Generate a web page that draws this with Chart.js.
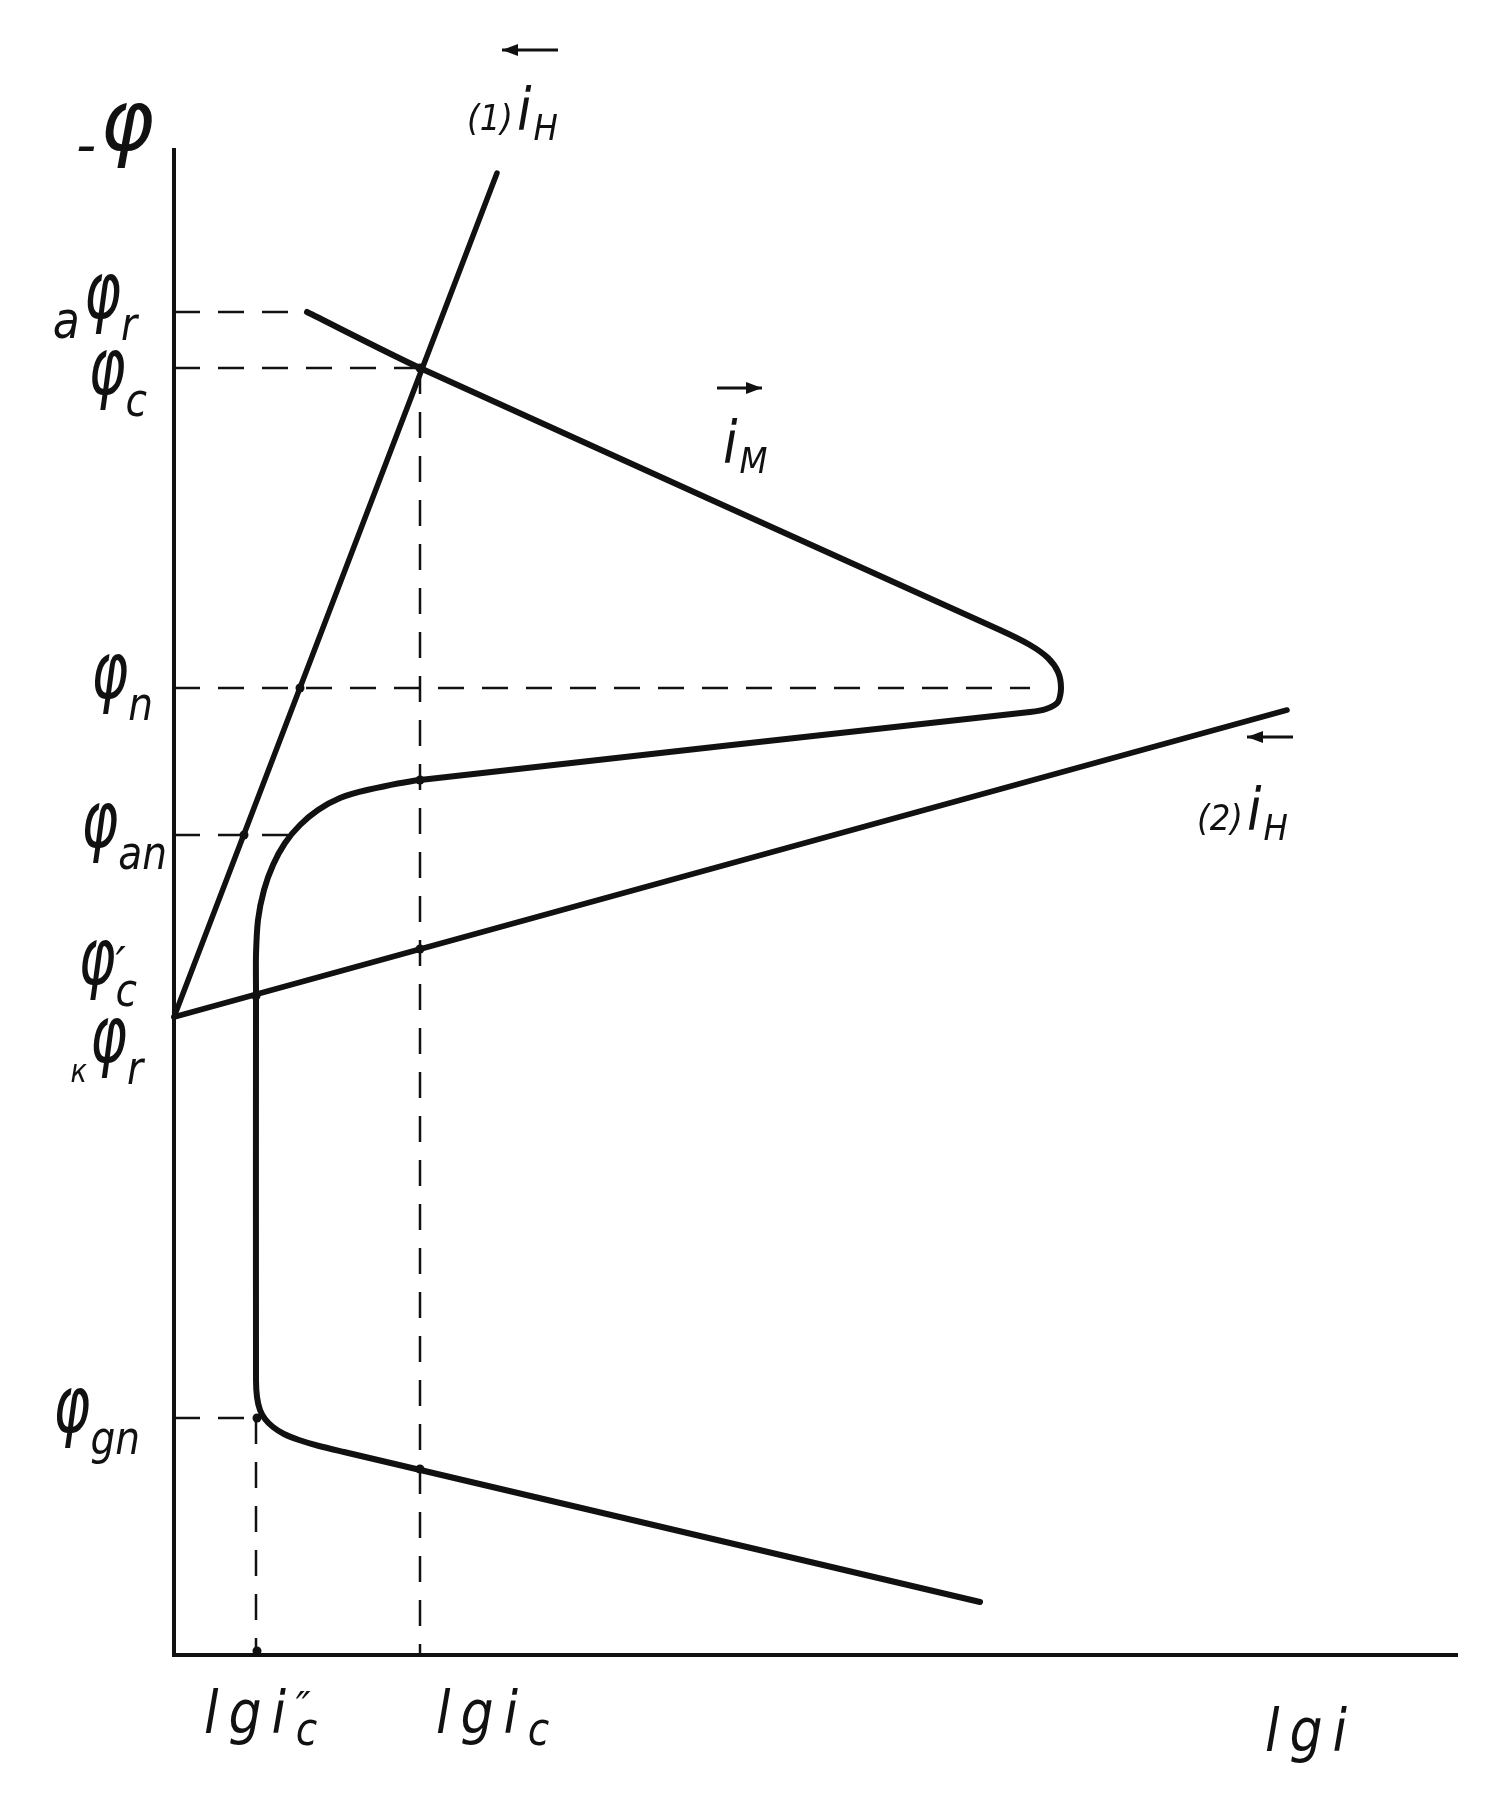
<!DOCTYPE html>
<html>
<head>
<meta charset="utf-8">
<title>lg i – φ</title>
<script src="https://cdn.jsdelivr.net/npm/chart.js@4.4.1/dist/chart.umd.min.js"></script>
<style>
  html, body { margin: 0; padding: 0; background: #fff; }
  canvas { display: block; }
</style>
</head>
<body>
<canvas id="diagram" width="1512" height="1800"></canvas>
<script>
// ==================== Values (lg i across, -φ up) ====================
const lgMax = 12.83;
const phiMax = 15.05;

// potential levels marked on the -φ axis
const phiLevels = [13.43, 12.87, 9.67, 8.20, 6.59, 6.38, 2.37];
const phiNames = [
    [['а', 'pre'], ['φ', 'main'], ['r', 'sub']],
    [['φ', 'main'], ['c', 'sub']],
    [['φ', 'main'], ['n', 'sub']],
    [['φ', 'main'], ['an', 'sub']],
    [['φ', 'main'], ['′', 'sup'], ['c', 'sub']],
    [['к', 'preSmall'], ['φ', 'main'], ['r', 'sub']],
    [['φ', 'main'], ['gn', 'sub']]
];
// where each dashed level line stops (null = no dashed line)
const phiGuideEnds = [1.33, 2.46, 8.56, 1.22, null, null, 0.85];

// current levels marked on the lg i axis
const lgLevels = [0.82, 2.46];
const lgNames = [
    [['lg', 'big'], ['i', 'big'], ['″', 'isup'], ['c', 'isub']],
    [['lg', 'big'], ['i', 'big'], ['c', 'isub']]
];
const lgGuideTops = [2.37, 12.87];

// cathodic lines (1) and (2)
const lineH1X = [0, 3.23];
const lineH1Y = [6.38, 14.82];
const lineH2X = [0, 11.13];
const lineH2Y = [6.38, 9.45];

// anodic polarisation curve of the metal
const curveMX = [1.33, 2.46, 8.26, 8.56, 8.74, 8.84, 8.87, 8.84, 8.72, 8.56, 2.46,
                 1.93, 1.66, 1.44, 1.26, 1.11, 0.99, 0.90, 0.84, 0.82, 0.82,
                 0.82, 0.83, 0.86, 0.91, 0.99, 1.10, 1.25, 1.45, 1.70, 8.06];
const curveMY = [13.43, 12.87, 10.25, 10.10, 9.97, 9.83, 9.67, 9.53, 9.46, 9.43, 8.75,
                 8.65, 8.57, 8.45, 8.30, 8.12, 7.90, 7.65, 7.35, 7.00, 6.65,
                 2.75, 2.58, 2.45, 2.36, 2.28, 2.21, 2.15, 2.09, 2.03, 0.53];

// small ink dots at the crossings
const dotX = [2.46, 1.26, 0.70, 2.46, 2.46, 0.82, 0.83, 2.46, 0.83];
const dotY = [12.87, 9.67, 8.20, 8.75, 7.06, 6.59, 2.37, 1.86, 0.04];

const axisTitleX = [['lg', 'big'], ['i', 'big']];
const axisTitleY = [['-', 'dash'], ['φ', 'title']];
const seriesNames = [
    [['(1)', 'paren'], ['i', 'ibig'], ['H', 'capsub']],
    [['(2)', 'paren'], ['i', 'ibig'], ['H', 'capsub']],
    [['i', 'ibig'], ['M', 'capsub']]
];

// ==================== Drawing ====================
const ink = '#111';
const zip = (xs, ys) => xs.map((x, i) => ({ x, y: ys[i] }));

// label layout (pixels)
const phiLabelGap = [37, 27, 21, 7, 37, 31, 34];
const phiLabelDy = [6, 26, 10, 12, -12, 45, 14];
const lgLabelDx = [-52, 16];
const lgLabelDy = 78;
const seriesLayout = [
    { set: 1, at: 'last', dx: -30, dy: -43, arrow: { x1: 5, x2: 61, y: -123, head: 'left' } },
    { set: 2, at: 'last', dx: -90, dy: 120, arrow: { x1: -40, x2: 6, y: 27, head: 'left' } },
    { set: 0, at: [6.26, 11.05], dx: -77, dy: -87, arrow: { x1: -83, x2: -38, y: -162, head: 'right' } }
];

const runStyles = {
    main:     { size: 78, sq: 0.72, dy: 0 },
    sub:      { size: 46, sq: 0.85, dy: 22 },
    pre:      { size: 52, sq: 0.85, dy: 20, gap: 4 },
    preSmall: { size: 32, sq: 0.85, dy: 20, gap: 3 },
    sup:      { size: 46, sq: 1,    dy: -4, still: true },
    title:    { size: 86, sq: 0.95, dy: 0 },
    dash:     { size: 56, sq: 1,    dy: 14, gap: 4 },
    big:      { size: 58, sq: 0.9,  dy: 0, spacing: 11 },
    isub:     { size: 46, sq: 0.85, dy: 12 },
    isup:     { size: 40, sq: 1,    dy: -12, still: true },
    paren:    { size: 36, sq: 0.9,  dy: 0, gap: 4 },
    ibig:     { size: 58, sq: 0.9,  dy: 0, gap: 2 },
    capsub:   { size: 36, sq: 0.9,  dy: 10 }
};

function setFont(ctx, st) {
    ctx.font = `italic ${st.size}px "DejaVu Sans"`;
    ctx.letterSpacing = (st.spacing || 0) + 'px';
}

function runsWidth(ctx, runs) {
    let w = 0;
    runs.forEach(([text, role]) => {
        const st = runStyles[role];
        setFont(ctx, st);
        if (!st.still) w += ctx.measureText(text).width * st.sq + (st.gap || 0);
    });
    return w;
}

function drawRuns(ctx, runs, x, y) {
    let cx = x;
    runs.forEach(([text, role]) => {
        const st = runStyles[role];
        setFont(ctx, st);
        ctx.save();
        ctx.translate(cx, y + st.dy);
        ctx.scale(st.sq, 1);
        ctx.fillText(text, 0, 0);
        ctx.restore();
        if (!st.still) cx += ctx.measureText(text).width * st.sq + (st.gap || 0);
    });
}

function drawArrow(ctx, x1, x2, y, head) {
    ctx.save();
    ctx.strokeStyle = ink;
    ctx.lineWidth = 3;
    ctx.beginPath();
    ctx.moveTo(x1, y);
    ctx.lineTo(x2, y);
    ctx.stroke();
    const tip = head === 'left' ? x1 : x2;
    const back = head === 'left' ? 16 : -16;
    ctx.beginPath();
    ctx.moveTo(tip, y);
    ctx.lineTo(tip + back, y - 6);
    ctx.lineTo(tip + back, y + 6);
    ctx.closePath();
    ctx.fillStyle = ink;
    ctx.fill();
    ctx.restore();
}

const labelPlugin = {
    id: 'diagramLabels',
    afterDraw(chart) {
        const { ctx, chartArea: area, scales: { x, y } } = chart;
        ctx.save();
        ctx.fillStyle = ink;
        ctx.textBaseline = 'alphabetic';

        // names of the potential levels
        phiNames.forEach((runs, i) => {
            const base = y.getPixelForValue(phiLevels[i]) + phiLabelDy[i];
            const w = runsWidth(ctx, runs);
            drawRuns(ctx, runs, area.left - phiLabelGap[i] - w, base);
        });

        // names of the current levels
        lgNames.forEach((runs, i) => {
            drawRuns(ctx, runs, x.getPixelForValue(lgLevels[i]) + lgLabelDx[i], area.bottom + lgLabelDy);
        });

        // axis titles
        drawRuns(ctx, axisTitleX, area.right - 192, area.bottom + 96);
        drawRuns(ctx, axisTitleY, area.left - 98, area.top);

        // line names with direction arrows
        seriesLayout.forEach((lay, i) => {
            let p;
            if (lay.at === 'last') {
                const pts = chart.getDatasetMeta(lay.set).data;
                p = pts[pts.length - 1];
            } else {
                p = { x: x.getPixelForValue(lay.at[0]), y: y.getPixelForValue(lay.at[1]) };
            }
            drawRuns(ctx, seriesNames[i], p.x + lay.dx, p.y + lay.dy);
            drawArrow(ctx, p.x + lay.arrow.x1, p.x + lay.arrow.x2, p.y + lay.arrow.y, lay.arrow.head);
        });
        ctx.restore();
    }
};

function buildDatasets() {
    const solid = { showLine: true, pointRadius: 0, borderColor: ink, borderCapStyle: 'round',
                    borderJoinStyle: 'round', clip: false };
    const sets = [
        { ...solid, data: zip(curveMX, curveMY), borderWidth: 6, tension: 0.25 },
        { ...solid, data: zip(lineH1X, lineH1Y), borderWidth: 5.5 },
        { ...solid, data: zip(lineH2X, lineH2Y), borderWidth: 5.5 }
    ];
    const guide = { showLine: true, pointRadius: 0, borderColor: ink, borderWidth: 2.5,
                    borderDash: [26, 18], clip: false };
    phiLevels.forEach((lvl, i) => {
        if (phiGuideEnds[i] === null) return;
        sets.push({ ...guide, data: [{ x: 0, y: lvl }, { x: phiGuideEnds[i], y: lvl }] });
    });
    lgLevels.forEach((lv, i) => {
        sets.push({ ...guide, data: [{ x: lv, y: lgGuideTops[i] }, { x: lv, y: 0 }] });
    });
    sets.push({ data: zip(dotX, dotY), showLine: false, pointRadius: 4.5, pointBorderWidth: 0,
                pointBackgroundColor: ink, clip: false });
    return sets;
}

const ctx = document.getElementById('diagram').getContext('2d');
new Chart(ctx, {
    type: 'scatter',
    data: { datasets: buildDatasets() },
    options: {
        responsive: false,
        animation: false,
        events: [],
        layout: { padding: { left: 174, top: 150, right: 55, bottom: 145 } },
        plugins: { legend: { display: false }, tooltip: { enabled: false } },
        scales: {
            x: {
                type: 'linear', min: 0, max: lgMax,
                ticks: { display: false },
                grid: { display: false, drawTicks: false },
                border: { display: true, color: ink, width: 4 },
                afterFit: s => { s.height = 0; }
            },
            y: {
                type: 'linear', min: 0, max: phiMax,
                ticks: { display: false },
                grid: { display: false, drawTicks: false },
                border: { display: true, color: ink, width: 4 },
                afterFit: s => { s.width = 0; }
            }
        }
    },
    plugins: [labelPlugin]
});
</script>
</body>
</html>
